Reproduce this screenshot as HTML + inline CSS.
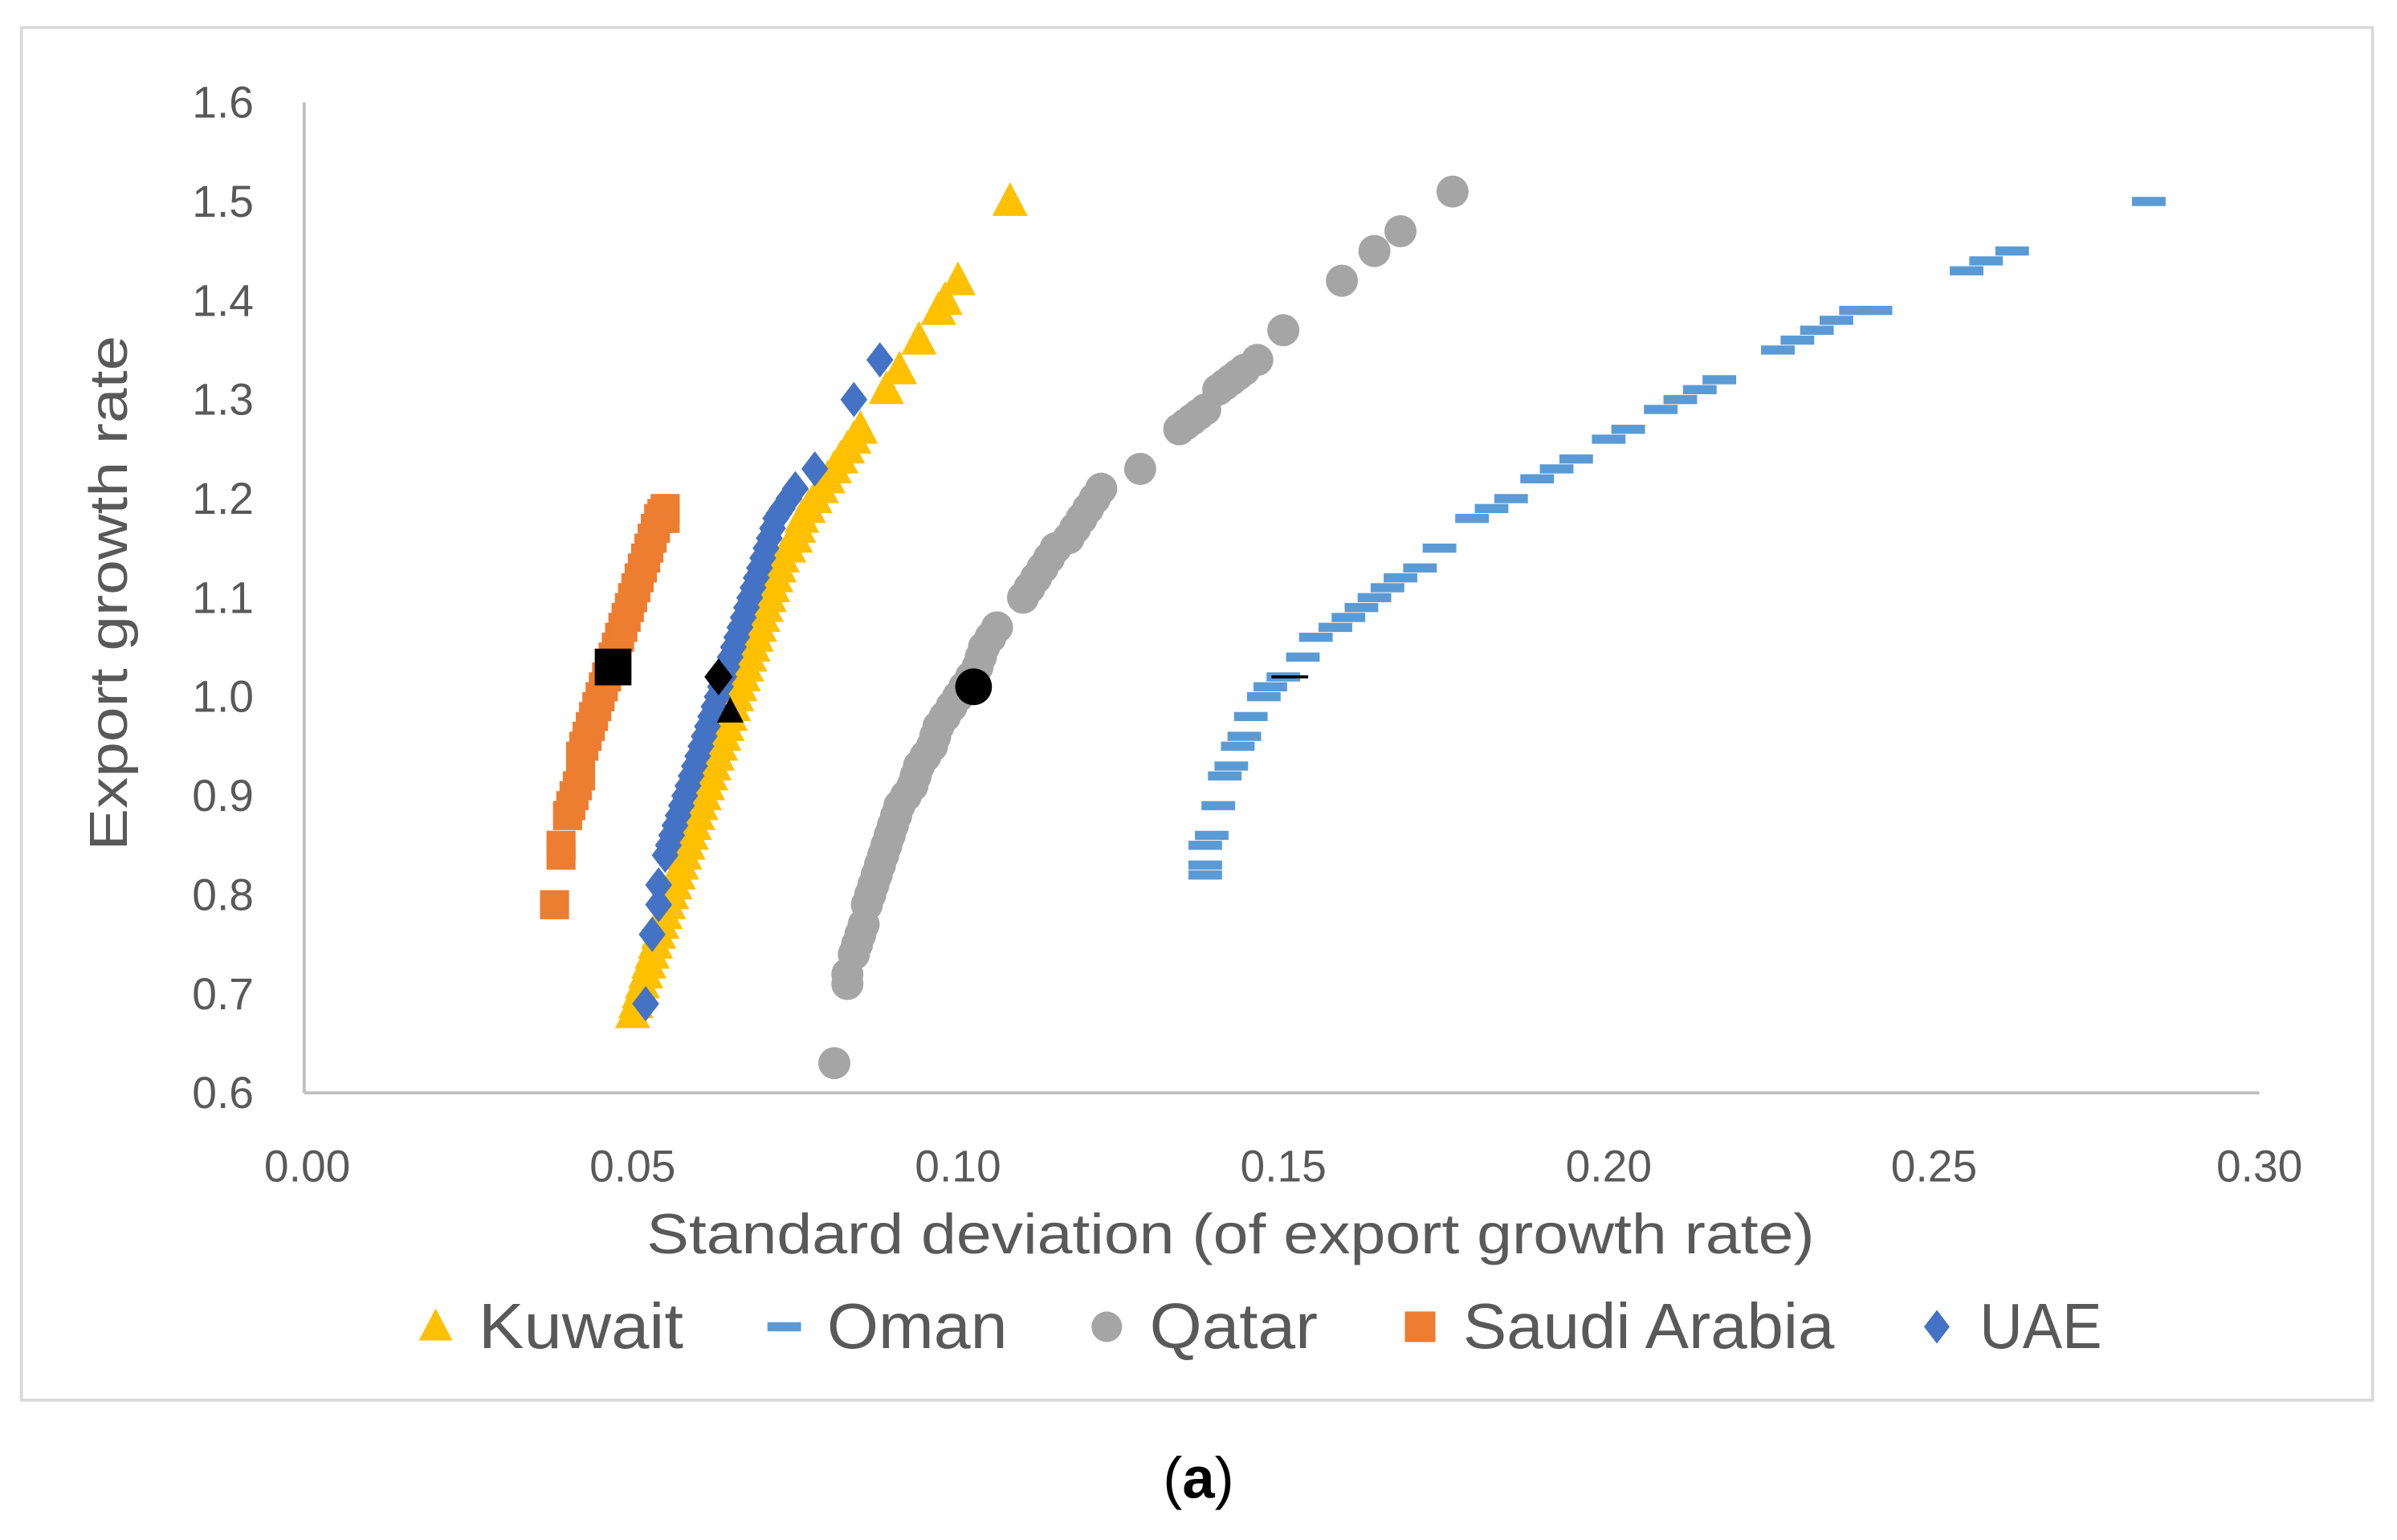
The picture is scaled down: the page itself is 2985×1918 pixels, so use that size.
<!DOCTYPE html>
<html><head><meta charset="utf-8"><style>
html,body{margin:0;padding:0;background:#fff;}
svg{display:block;}
text{font-family:"Liberation Sans",sans-serif;}
</style></head>
<body>
<svg id="chart" width="2985" height="1918" viewBox="0 0 1568 1007.5" xmlns="http://www.w3.org/2000/svg">
<rect x="14" y="18" width="1538" height="898" fill="#fff" stroke="#d9d9d9" stroke-width="2"/>
<g id="grid"></g>
<g id="marks"></g>
<text transform="translate(83,388) rotate(-90)" text-anchor="middle" font-size="35" textLength="337" lengthAdjust="spacingAndGlyphs" fill="#595959">Export growth rate</text>
<text x="805" y="820" text-anchor="middle" font-size="37" textLength="764" lengthAdjust="spacingAndGlyphs" fill="#595959">Standard deviation (of export growth rate)</text>
<g id="legend"></g>
<text x="784" y="980" text-anchor="middle" font-size="38" font-family="Liberation Serif, serif" fill="#000">(<tspan font-weight="bold">a</tspan>)</text>
</svg>
<script>
const xTicks=[0,0.05,0.10,0.15,0.20,0.25,0.30];
const yTicks=[0.6,0.7,0.8,0.9,1.0,1.1,1.2,1.3,1.4,1.5,1.6];
const kuwaitX=[0.050,0.0505,0.051,0.0515,0.052,0.0525,0.053,0.0535,0.054,0.0545,0.055,0.0555,0.056,0.0565,0.057,0.0575,0.058,0.0585,0.059,0.0595,0.060,0.0605,0.061,0.0615,0.062,0.0625,0.063,0.0635,0.064,0.0645,0.065,0.0655,0.066,0.0665,0.067,0.0675,0.068,0.0685,0.069,0.0695,0.070,0.0705,0.071,0.0715,0.072,0.0725,0.073,0.074,0.075,0.0755,0.076,0.077,0.078,0.079,0.080,0.081,0.082,0.083,0.084,0.085,0.089,0.091,0.094,0.097,0.098,0.100,0.108];
const kuwaitY=[0.68,0.69,0.70,0.71,0.72,0.73,0.74,0.75,0.76,0.77,0.78,0.79,0.80,0.81,0.82,0.83,0.84,0.85,0.86,0.87,0.88,0.89,0.90,0.91,0.92,0.93,0.94,0.95,0.96,0.97,0.98,0.99,1.00,1.01,1.02,1.03,1.04,1.05,1.06,1.07,1.08,1.09,1.10,1.11,1.12,1.13,1.14,1.15,1.16,1.17,1.18,1.19,1.20,1.21,1.22,1.23,1.24,1.25,1.26,1.27,1.31,1.33,1.36,1.39,1.40,1.42,1.50];
const omanX=[0.138,0.138,0.138,0.139,0.140,0.141,0.142,0.143,0.144,0.145,0.147,0.148,0.150,0.153,0.155,0.158,0.160,0.162,0.164,0.166,0.168,0.171,0.174,0.179,0.182,0.185,0.189,0.192,0.195,0.200,0.203,0.208,0.211,0.214,0.217,0.226,0.229,0.232,0.235,0.238,0.241,0.255,0.258,0.262,0.283];
const omanY=[0.82,0.83,0.85,0.86,0.89,0.92,0.93,0.95,0.96,0.98,1.00,1.01,1.02,1.04,1.06,1.07,1.08,1.09,1.10,1.11,1.12,1.13,1.15,1.18,1.19,1.20,1.22,1.23,1.24,1.26,1.27,1.29,1.30,1.31,1.32,1.35,1.36,1.37,1.38,1.39,1.39,1.43,1.44,1.45,1.50];
const qatarX=[0.081,0.083,0.083,0.084,0.0845,0.085,0.0855,0.086,0.0865,0.087,0.0875,0.088,0.0885,0.089,0.0895,0.090,0.0905,0.091,0.092,0.093,0.0935,0.094,0.095,0.096,0.0965,0.097,0.098,0.099,0.100,0.101,0.102,0.103,0.1035,0.104,0.105,0.106,0.110,0.111,0.112,0.113,0.114,0.115,0.117,0.118,0.119,0.120,0.121,0.122,0.128,0.134,0.135,0.136,0.137,0.138,0.140,0.141,0.142,0.143,0.144,0.146,0.150,0.159,0.164,0.168,0.176];
const qatarY=[0.63,0.71,0.72,0.74,0.75,0.76,0.77,0.79,0.80,0.81,0.82,0.83,0.84,0.85,0.86,0.87,0.88,0.89,0.90,0.91,0.92,0.93,0.94,0.95,0.96,0.97,0.98,0.99,1.00,1.01,1.02,1.03,1.04,1.05,1.06,1.07,1.10,1.11,1.12,1.13,1.14,1.15,1.16,1.17,1.18,1.19,1.20,1.21,1.23,1.27,1.275,1.28,1.285,1.29,1.31,1.315,1.32,1.325,1.33,1.34,1.37,1.42,1.45,1.47,1.51];
const saudiX=[0.038,0.039,0.039,0.040,0.0405,0.041,0.0415,0.042,0.042,0.0425,0.043,0.0435,0.044,0.0445,0.045,0.0455,0.046,0.0465,0.047,0.0475,0.048,0.0485,0.049,0.0495,0.050,0.0505,0.051,0.0515,0.052,0.0525,0.053,0.0535,0.054,0.0545,0.055,0.055];
const saudiY=[0.79,0.84,0.85,0.88,0.89,0.90,0.91,0.92,0.94,0.95,0.96,0.97,0.98,0.99,1.00,1.01,1.02,1.03,1.04,1.05,1.06,1.07,1.08,1.09,1.10,1.11,1.12,1.13,1.14,1.15,1.16,1.17,1.18,1.185,1.19,1.18];
const uaeX=[0.052,0.053,0.054,0.054,0.055,0.0555,0.056,0.0565,0.057,0.0575,0.058,0.0585,0.059,0.0595,0.060,0.0605,0.061,0.0615,0.062,0.0625,0.063,0.0635,0.064,0.0645,0.065,0.0655,0.066,0.0665,0.067,0.0675,0.068,0.0685,0.069,0.0695,0.070,0.0705,0.071,0.0715,0.072,0.0725,0.073,0.074,0.075,0.078,0.084,0.088];
const uaeY=[0.69,0.76,0.79,0.81,0.84,0.85,0.86,0.87,0.88,0.89,0.90,0.91,0.92,0.93,0.94,0.95,0.96,0.97,0.98,0.99,1.00,1.01,1.02,1.03,1.04,1.05,1.06,1.07,1.08,1.09,1.10,1.11,1.12,1.13,1.14,1.15,1.16,1.17,1.18,1.185,1.19,1.20,1.21,1.23,1.30,1.34];
const optimalX=[0.065,0.151,0.1024,0.047,0.0632];
const optimalY=[0.985,1.02,1.01,1.03,1.02];
const optimalShape=['tri','dash','circle','square','diamond'];

const NS='http://www.w3.org/2000/svg';
const X0=201,X1=1478,Y0=715,Y1=67;
function sx(v){return X0+(v-0)/(0.30-0)*(X1-X0);}
function sy(v){return Y0-(v-0.6)/(1.6-0.6)*(Y0-Y1);}
function mk(tag,attrs,parent){const e=document.createElementNS(NS,tag);for(const k in attrs)e.setAttribute(k,attrs[k]);parent.appendChild(e);return e;}
function shape(kind,cx,cy,s,color,parent){
  if(kind==='tri')return mk('polygon',{points:`${cx},${cy-s*0.6} ${cx-s*0.55},${cy+s*0.45} ${cx+s*0.55},${cy+s*0.45}`,fill:color},parent);
  if(kind==='diamond')return mk('polygon',{points:`${cx},${cy-s*0.55} ${cx+s*0.42},${cy} ${cx},${cy+s*0.55} ${cx-s*0.42},${cy}`,fill:color},parent);
  if(kind==='circle')return mk('circle',{cx:cx,cy:cy,r:s/2,fill:color},parent);
  if(kind==='square')return mk('rect',{x:cx-s/2,y:cy-s/2,width:s,height:s,fill:color},parent);
  if(kind==='dash')return mk('rect',{x:cx-s/2,y:cy-3,width:s,height:6,fill:color},parent);
}
const grid=document.getElementById('grid');
const yAx=mk('line',{x1:X0-2,y1:Y1,x2:X0-2,y2:Y0,stroke:'#bfbfbf','stroke-width':2},grid);


const xAx=mk('line',{x1:X0-2,y1:Y0,x2:X1,y2:Y0,stroke:'#bfbfbf','stroke-width':2},grid);


xTicks.forEach(t=>{const e=mk('text',{x:sx(t),y:Y0+58,'text-anchor':'middle','font-size':29,fill:'#595959'},grid);e.textContent=t.toFixed(2);

});
yTicks.forEach(t=>{const e=mk('text',{x:166,y:sy(t)+10,'text-anchor':'end','font-size':29,fill:'#595959'},grid);e.textContent=t.toFixed(1);

});

const marks=document.getElementById('marks');
const series=[
 {name:'oman',xs:omanX,ys:omanY,kind:'dash',color:'#5B9BD5',s:22},
 {name:'qatar',xs:qatarX,ys:qatarY,kind:'circle',color:'#A5A5A5',s:21},
 {name:'saudi-arabia',xs:saudiX,ys:saudiY,kind:'square',color:'#ED7D31',s:19},
 {name:'kuwait',xs:kuwaitX,ys:kuwaitY,kind:'tri',color:'#FFC000',s:21},
 {name:'uae',xs:uaeX,ys:uaeY,kind:'diamond',color:'#4472C4',s:21},
];
series.forEach(sr=>{
 const g=mk('g',{},marks);
 
 
 sr.xs.forEach((v,i)=>{const e=shape(sr.kind,sx(v),sy(sr.ys[i]),sr.s,sr.color,g);
 
 });
});
const optSizes={tri:16,dash:24,circle:24,square:24,diamond:22};
optimalX.forEach((v,i)=>{const k=optimalShape[i];const e=k==='dash'?mk('rect',{x:sx(v)-12,y:sy(optimalY[i])-1,width:24,height:2,fill:'#000'},marks):shape(k,sx(v),sy(optimalY[i]),optSizes[k],'#000',marks);

});

const legend=document.getElementById('legend');
const legItems=[['Kuwait','tri','#FFC000',285,134],['Oman','dash','#5B9BD5',513,118],['Qatar','circle','#A5A5A5',724,110],['Saudi Arabia','square','#ED7D31',929,243],['UAE','diamond','#4472C4',1267,80]];
legItems.forEach(l=>{
 const g=mk('g',{},legend);
 
 
 shape(l[1],l[3],868,l[1]==='dash'?22:20,l[2],g);
 const t=mk('text',{x:l[3]+28,y:882,'font-size':42,textLength:l[4],lengthAdjust:'spacingAndGlyphs',fill:'#595959'},g);t.textContent=l[0];
});
</script>
</body></html>
